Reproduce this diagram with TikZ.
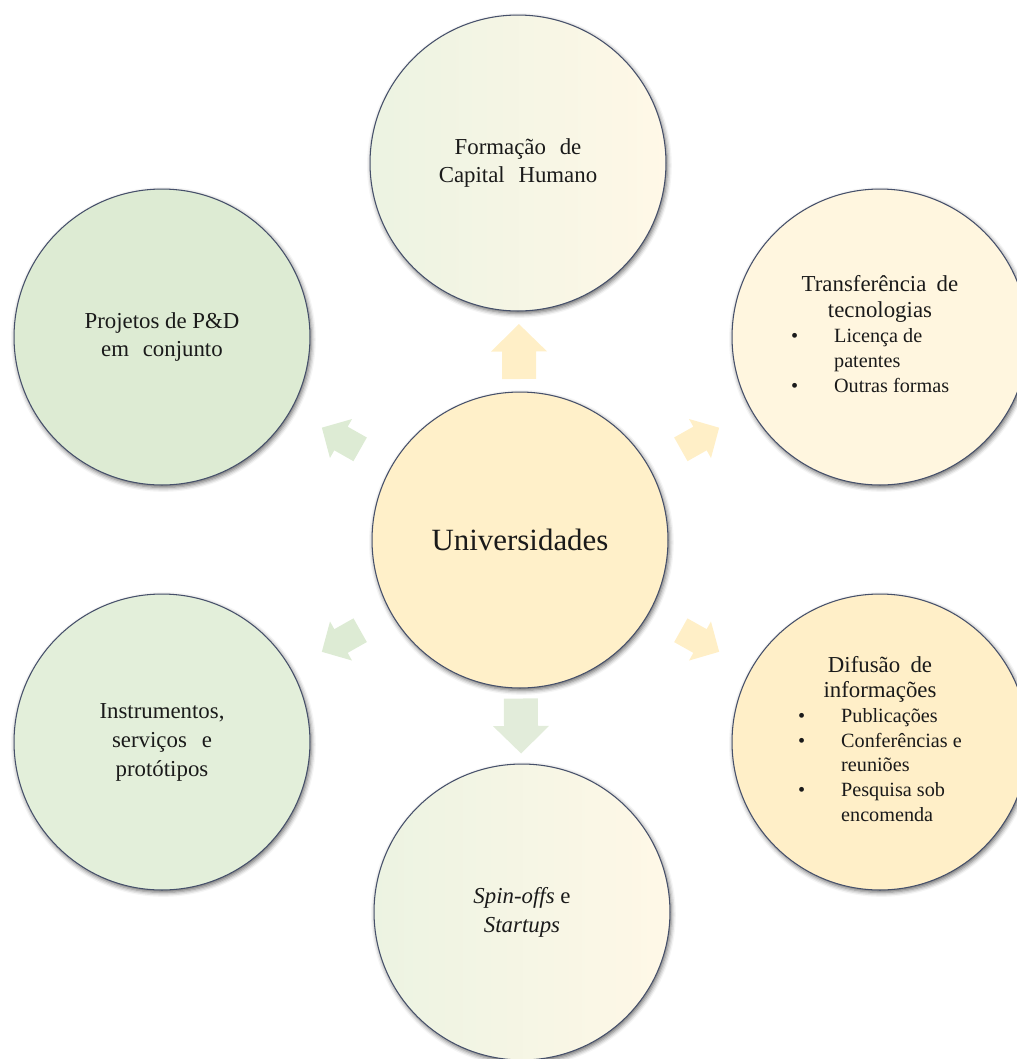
\documentclass[tikz,border=0pt]{standalone}
\usepackage{fontspec}
\setmainfont{Liberation Serif}
\usetikzlibrary{calc,shadows.blur}

\definecolor{rimgray}{HTML}{46506A}
\definecolor{inkblack}{HTML}{1A1A1A}
\definecolor{coreyellow}{HTML}{FFF0C9}
\definecolor{creamsoft}{HTML}{FFF6DF}
\definecolor{creamdeep}{HTML}{FFEFC8}
\definecolor{creamlight}{HTML}{FFF8E7}
\definecolor{greendeep}{HTML}{DDEBD3}
\definecolor{greensoft}{HTML}{E3EFDA}
\definecolor{greenlight}{HTML}{ECF3E2}
\definecolor{arrowyellow}{HTML}{FFEFC7}
\definecolor{arrowgreen}{HTML}{DDEBD4}
\definecolor{arrowpale}{HTML}{E2ECDA}

\begin{document}
\begin{tikzpicture}[x=0.02cm, y=-0.02cm]
    % Define styles
    \tikzset{
        hub/.style={circle, draw=rimgray, line width=0.6pt, minimum size=5.92cm, inner sep=0pt, align=center, text=inkblack, font=\fontsize{13}{16.5}\selectfont, blur shadow={shadow xshift=0.8pt, shadow yshift=-1.4pt, shadow blur radius=2.5pt, shadow opacity=60}},
        core/.style={hub, fill=coreyellow, font=\fontsize{17.6}{21}\selectfont},
        listtext/.style={font=\fontsize{11.5}{14.2}\selectfont},
        blockarrow/.pic={\fill[pic actions] (-27.5,-17) -- (0,-17) -- (0,-28) -- (27.5,0) -- (0,28) -- (0,17) -- (-27.5,17) -- cycle;}
    }
    \newcommand{\headline}[1]{\multicolumn{2}{c}{\fontsize{13}{16.5}\selectfont #1}}

    \useasboundingbox (0,0) rectangle (1017,1059);

    % Central node
    \node[core] (uni) at (520,540) {Universidades};

    % Outer nodes
    \node[hub, left color=greenlight, right color=creamlight] (cap) at (518,163) {Formação\hspace{0.35em} de\\Capital\hspace{0.35em} Humano};
    \node[hub, fill=creamsoft, listtext] (tec) at (880,337) {%
        \begin{tabular}{@{}p{0.86cm}@{}l@{}}
            \headline{Transferência\hspace{0.45em}de}\\[1pt]
            \headline{tecnologias}\\
            \textbullet & Licença de\\
                        & patentes\\
            \textbullet & Outras formas
        \end{tabular}};
    \node[hub, fill=creamdeep, listtext] (dif) at (880,742) {%
        \begin{tabular}{@{}p{0.86cm}@{}l@{}}
            \headline{Difusão\hspace{0.45em}de}\\
            \headline{informações}\\
            \textbullet & Publicações\\
            \textbullet & Conferências e\\
                        & reuniões\\
            \textbullet & Pesquisa sob\\
                        & encomenda
        \end{tabular}};
    \node[hub, left color=greenlight, right color=creamlight] (spin) at (522,912) {\textit{Spin-offs} e\\\textit{Startups}};
    \node[hub, fill=greensoft] (ins) at (162,742) {Instrumentos,\\serviços\hspace{0.4em} e\\protótipos};
    \node[hub, fill=greendeep] (pd) at (162,337) {Projetos de P\&D\\em\hspace{0.35em} conjunto};

    % Block arrows from the centre
    \path (uni) -- (cap)  pic[midway, sloped, allow upside down, fill=arrowyellow] {blockarrow};
    \path (uni) -- (tec)  pic[midway, sloped, allow upside down, fill=arrowyellow, scale=0.8] {blockarrow};
    \path (uni) -- (dif)  pic[midway, sloped, allow upside down, fill=arrowyellow, scale=0.8] {blockarrow};
    \path (uni) -- (spin) pic[midway, sloped, allow upside down, fill=arrowpale] {blockarrow};
    \path (uni) -- (ins)  pic[midway, sloped, allow upside down, fill=arrowgreen, scale=0.8] {blockarrow};
    \path (uni) -- (pd)   pic[midway, sloped, allow upside down, fill=arrowgreen, scale=0.8] {blockarrow};

\end{tikzpicture}
\end{document}
